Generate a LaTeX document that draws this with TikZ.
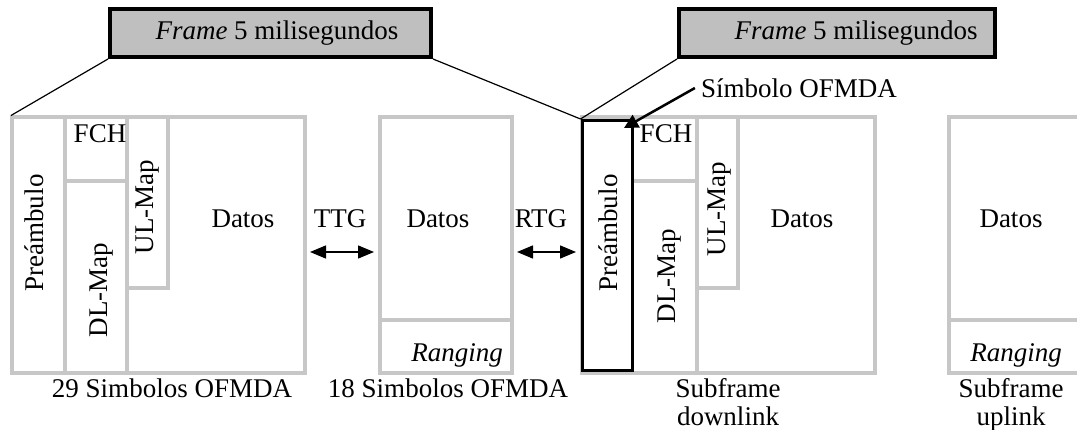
\documentclass[tikz,border=0pt]{standalone}
\usepackage{fontspec}
\setmainfont{Liberation Serif}
\usetikzlibrary{arrows.meta}
\begin{document}
\begin{tikzpicture}[x=1pt,y=-1pt,
  gl/.style={draw=black!22,line width=4pt},
  lbl/.style={font=\fontsize{27}{30}\selectfont,inner sep=0pt},
  vlbl/.style={lbl,rotate=90},
  framebox/.style={draw=black,line width=4pt,fill=black!25,minimum height=48pt,inner sep=0pt,font=\fontsize{27}{30}\selectfont},
  thin/.style={draw=black,line width=1.2pt},
  gap/.style={draw=black,line width=1.5pt,{Triangle[length=16pt,width=13pt]}-{Triangle[length=16pt,width=13pt]}},
  pointer/.style={draw=black,line width=2.5pt,-{Triangle[length=14pt,width=14pt]}}]
\useasboundingbox (0,0) rectangle (1077,430);

% frame boxes
\node[framebox,minimum width=321pt] (f1) at (270.5,33) {\hspace{13pt}\textit{Frame} 5 milisegundos};
\node[framebox,minimum width=316pt] (f2) at (837,33) {\hspace{38pt}\textit{Frame} 5 milisegundos};

% left downlink subframe
\draw[gl] (12,117.5) rectangle (305,373);
\draw[gl] (65,117.5) -- (65,373);
\draw[gl] (65,181) -- (127,181);
\draw[gl] (127,117.5) -- (127,373);
\draw[gl] (127,288) -- (168,288) -- (168,117.5);
\coordinate (L1) at (11,115.5);

% middle uplink subframe
\draw[gl] (379.5,117.5) rectangle (512,373);
\draw[gl] (379.5,320) -- (512,320);

% right downlink subframe
\draw[gl] (582,117.5) rectangle (875,373);
\draw[gl] (633,181) -- (697,181);
\draw[gl] (697,117.5) -- (697,373);
\draw[gl] (697,288) -- (738,288) -- (738,117.5);
\node[draw=black,line width=3pt,minimum width=50pt,minimum height=250pt,inner sep=0pt] (pre2) at (607,245.5) {};

% right uplink subframe (cut off)
\draw[gl] (1090,117.5) -- (949,117.5) -- (949,373) -- (1090,373);
\draw[gl] (949,320) -- (1090,320);

% connectors from frame boxes
\draw[thin] (f1.south west) -- (L1);
\draw[thin] (f1.south east) -- (pre2.north west);
\draw[thin] (f2.south west) -- (pre2.north west);

% symbol pointer
\node[lbl] (sym) at (799,88) {Símbolo OFMDA};
\coordinate (tip) at (624,128);
\draw[pointer] ([xshift=-6pt]sym.west) -- (tip);

% labels left
\node[vlbl] (pa) at (34,233) {Preámbulo};
\node[lbl] (fa) at (100,134) {FCH};
\node[vlbl] (da) at (102,290) {DL-Map};
\node[vlbl] (ua) at (148,207) {UL-Map};
\node[lbl] (ta) at (243,219) {Datos};

% gaps
\node[lbl] (ttg) at (340,219) {TTG};
\coordinate (t1) at (310,252);
\coordinate (t2) at (374,252);
\draw[gap] (t1) -- (t2);
\node[lbl] (rtg) at (541,219) {RTG};
\coordinate (r1) at (517,252);
\coordinate (r2) at (576,252);
\draw[gap] (r1) -- (r2);

% middle labels
\node[lbl] (tb) at (438,219) {Datos};
\node[lbl] (rb) at (457,355) {\textit{Ranging}};

% right labels
\node[vlbl] (pc) at (608,233) {Preámbulo};
\node[lbl] (fc) at (666,134) {FCH};
\node[vlbl] (dc) at (670,276) {DL-Map};
\node[vlbl] (uc) at (720,209) {UL-Map};
\node[lbl] (tc) at (802,219) {Datos};

\node[lbl] (td) at (1011,219) {Datos};
\node[lbl] (rd) at (1016,355) {\textit{Ranging}};

% bottom captions
\node[lbl,anchor=base] (c1) at (172,398) {29 Simbolos OFMDA};
\node[lbl,anchor=base] (c2) at (448,398) {18 Simbolos OFMDA};
\node[lbl,anchor=base,align=center] (c3) at (728,398) {Subframe};
\node[lbl,anchor=base] (c3b) at (728,425) {downlink};
\node[lbl,anchor=base] (c4) at (1011,398) {Subframe};
\node[lbl,anchor=base] (c4b) at (1011,425) {uplink};
\end{tikzpicture}
\end{document}
